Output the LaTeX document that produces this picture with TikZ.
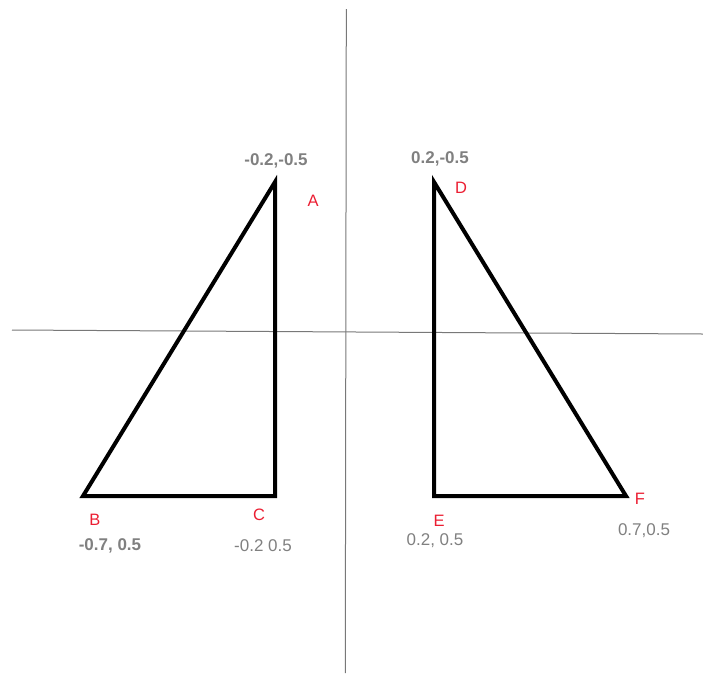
\documentclass[tikz,border=0pt]{standalone}
\usepackage{fontspec}
\setmainfont{Liberation Sans}
\definecolor{axisgray}{RGB}{120,120,120}
\definecolor{labgray}{RGB}{128,128,128}
\definecolor{labred}{RGB}{235,30,50}
\tikzset{
  axis/.style={draw=axisgray, line width=1pt},
  tri/.style={draw=black, line width=4pt, line join=miter},
  coordlab/.style={text=labgray, font=\fontsize{17}{19}\selectfont, inner sep=0pt},
  coordbold/.style={coordlab, font=\fontsize{17}{19}\selectfont\bfseries},
  ptlab/.style={text=labred, font=\fontsize{16.5}{18}\selectfont, inner sep=0pt}
}
\begin{document}
\begin{tikzpicture}[x=1pt,y=-1pt]
\useasboundingbox (0,0) rectangle (703,673);
% axes
\coordinate (xl) at (12,330);
\coordinate (xr) at (703,334);
\coordinate (yt) at (346.3,9);
\coordinate (yb) at (345.3,673);
\draw[axis] (xl) -- (xr);
\draw[axis] (yt) -- (yb);
% triangle 1
\coordinate (A) at (275,182);
\coordinate (B) at (83,496);
\coordinate (C) at (275,496);
\draw[tri] (A) -- (B) -- (C) -- cycle;
% triangle 2
\coordinate (D) at (434,182);
\coordinate (E) at (434,496);
\coordinate (F) at (626,496);
\draw[tri] (D) -- (E) -- (F) -- cycle;
% labels
\node[coordbold] (la) at (276,161) {-0.2,-0.5};
\node[ptlab] (na) at (313,201) {A};
\node[coordbold] (ld) at (440,159) {0.2,-0.5};
\node[ptlab] (nd) at (461,188) {D};
\node[ptlab] (nb) at (95,520) {B};
\node[coordbold] (lb) at (110,546) {-0.7, 0.5};
\node[ptlab] (nc) at (259,515) {C};
\node[coordlab] (lc) at (263,546) {-0.2 0.5};
\node[ptlab] (ne) at (439,521) {E};
\node[coordlab] (le) at (435,541) {0.2, 0.5};
\node[ptlab] (nf) at (640,499) {F};
\node[coordlab] (lf) at (644,531) {0.7,0.5};
\end{tikzpicture}
\end{document}
